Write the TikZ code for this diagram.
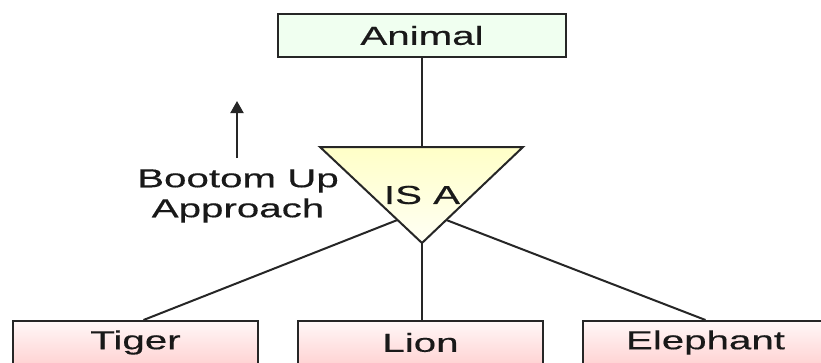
\documentclass[tikz,border=0pt]{standalone}
\usepackage{fontspec}
\newfontfamily\lblfont{Liberation Sans}[FakeStretch=1.55,FakeBold=0.4]
\usetikzlibrary{calc,arrows.meta}

\tikzset{
  lbl/.style={inner sep=0pt, text=black!90, font=\lblfont\fontsize{26}{30}\selectfont},
  box/.style={lbl, draw=black!85, line width=2pt, minimum height=43pt},
  topbox/.style={box, minimum width=288pt, fill=green!6},
  leafbox/.style={box, minimum width=245pt, top color=red!3, bottom color=red!17},
  link/.style={line width=2pt, draw=black!85},
}

\begin{document}
\begin{tikzpicture}[x=1pt,y=-1pt]
\clip (0,0) rectangle (821,362);
\fill[white] (0,0) rectangle (821,362);

\node[topbox] (animal) at (422,35.5) {Animal};

% IS A triangle, pointing down
\coordinate (isa-l) at (320,147);
\coordinate (isa-r) at (523,147);
\coordinate (isa-b) at (422,243);
\coordinate (isa-t) at (422,147);
\draw[link, top color=yellow!22, bottom color=yellow!4] (isa-l)--(isa-r)--(isa-b)--cycle;
\node[lbl] (isa) at (422,195) {IS A};

\coordinate (isa-sl) at ($(isa-l)!0.76!(isa-b)$);
\coordinate (isa-sr) at ($(isa-r)!0.76!(isa-b)$);

\node[leafbox] (tiger) at (135.5,342.5) {Tiger};
\node[leafbox] (lion) at (420.5,342.5) {Lion};
\node[leafbox] (elephant) at (705.5,342.5) {Elephant};

\draw[link] (animal.south) -- (isa-t);
\draw[link] (isa-sl) -- ([xshift=8pt]tiger.north);
\draw[link] (isa-b) -- (isa-b |- lion.north);
\draw[link] (isa-sr) -- (elephant.north);

% direction note
\coordinate (up-tail) at (237,158);
\coordinate (up-head) at (237,101);
\draw[link, -{Triangle[length=12pt,width=13pt]}] (up-tail) -- (up-head);
\node[lbl, align=center] (note) at (238,196) {Bootom Up\\Approach};

\end{tikzpicture}
\end{document}
